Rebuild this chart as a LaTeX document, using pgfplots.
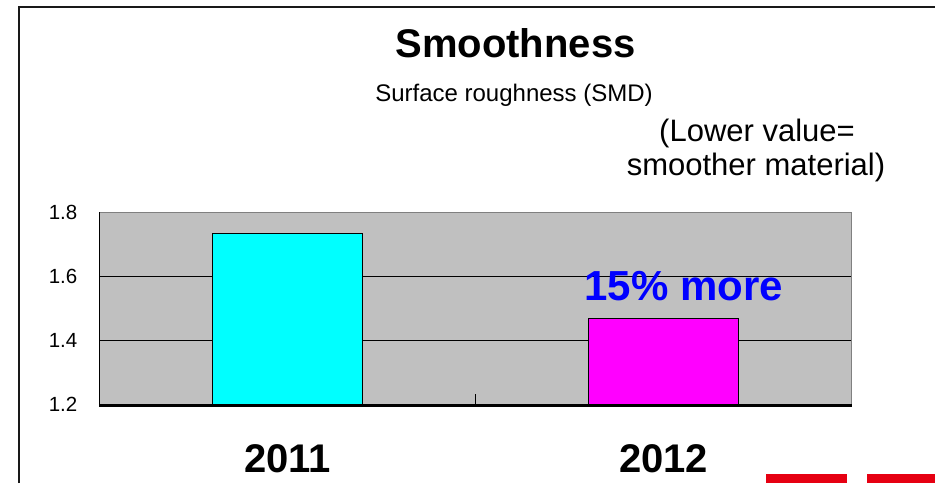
\documentclass[border=0pt]{standalone}
\usepackage{pgfplots}
\pgfplotsset{compat=1.18}
\usepackage{fontspec}
\setmainfont{Liberation Sans}
\definecolor{plotbg}{RGB}{192,192,192}
\definecolor{framegray}{RGB}{128,128,128}
\definecolor{barcyan}{RGB}{0,255,255}
\definecolor{barmagenta}{RGB}{255,0,255}
\definecolor{txtblue}{RGB}{0,0,255}
\definecolor{deco}{RGB}{230,0,18}
\definecolor{framedark}{RGB}{25,25,25}
\begin{document}
\begin{tikzpicture}[x=1pt,y=1pt]
\path[use as bounding box] (0,0) rectangle (935,483);
% outer frame lines
\draw[framedark, line width=2pt] (18.5,0) -- (18.5,476.3) -- (935,476.3);
% titles
\node[anchor=base, inner sep=0pt] at (515.5,425.3) {\fontsize{40}{40}\selectfont\bfseries Smoothness};
\node[anchor=base, inner sep=0pt] at (514,381.3) {\fontsize{24}{24}\selectfont Surface roughness (SMD)};
\node[anchor=base, inner sep=0pt] at (757,341.3) {\fontsize{31}{31}\selectfont (Lower value=};
\node[anchor=base, inner sep=0pt] at (756,308) {\fontsize{31}{31}\selectfont smoother material)};
% decorative red marks
\fill[deco] (765.7,0) rectangle (846.7,9);
\fill[deco] (867,0) rectangle (935,9);
\begin{axis}[
  at={(99.3pt,78.7pt)}, anchor=south west,
  scale only axis, width=752.4pt, height=192pt,
  xmin=-0.5, xmax=1.5, ymin=1.2, ymax=1.8,
  clip mode=individual,
  axis background/.style={fill=plotbg},
  axis line style={draw=none},
  ybar, bar width=150pt, bar shift=0pt,
  xtick={0,1}, xticklabels={2011,2012},
  ytick={1.2,1.4,1.6,1.8}, yticklabels={1.2,1.4,1.6,1.8},
  major tick length=0pt,
  tick pos=left,
  ymajorgrids, major grid style={black, line width=1pt},
  extra x ticks={0.5,1.5}, extra x tick labels={},
  extra x tick style={major tick length=10pt, tick align=inside, tick style={black, line width=1pt}, grid=none},
  xticklabel style={font=\fontsize{40}{40}\selectfont\bfseries, anchor=base, inner sep=0pt, yshift=-67.7pt},
  yticklabel style={font=\fontsize{20.5}{20.5}\selectfont, anchor=east, inner sep=0pt, xshift=-21.8pt},
]
\addplot[fill=barcyan, draw=black, line width=1.2pt] coordinates {(0,1.733)};
\addplot[fill=barmagenta, draw=black, line width=1.2pt] coordinates {(1,1.469)};
\draw[framegray, line width=1.2pt] (rel axis cs:0,1) -- (rel axis cs:1,1) -- (rel axis cs:1,0);
\draw[black, line width=1.5pt] (rel axis cs:0,0) -- (rel axis cs:0,1);
\draw[black, line width=3pt] ([yshift=-1pt]rel axis cs:0,0) -- ([yshift=-1pt]rel axis cs:1,0);
\node[anchor=base, inner sep=0pt, text=txtblue, font=\fontsize{42}{42}\selectfont\bfseries] at (axis cs:1,1.2) [xshift=20pt, yshift=104.3pt] {15\% more};
\end{axis}
\end{tikzpicture}
\end{document}
